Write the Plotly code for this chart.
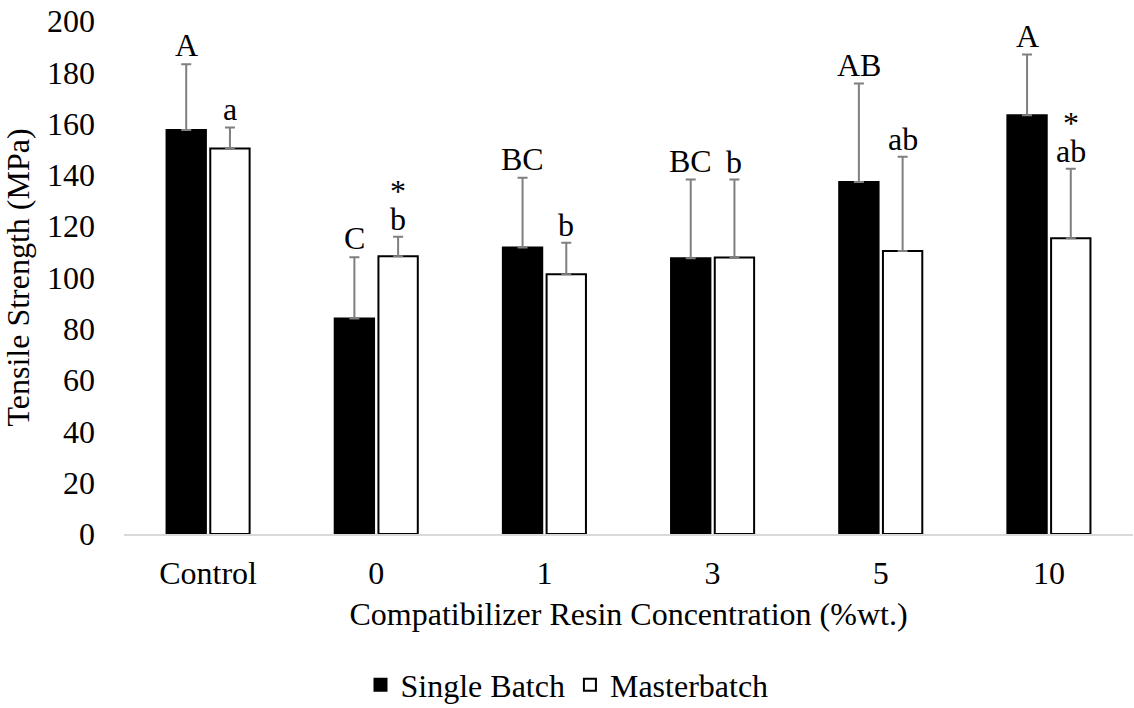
import plotly.graph_objects as go

categories = ["Control", "0", "1", "3", "5", "10"]
single_batch = [157.5, 84.0, 111.7, 107.5, 137.2, 163.3]
single_err = [25.6, 23.9, 27.2, 30.7, 38.4, 23.6]
masterbatch = [150.3, 108.3, 101.3, 107.8, 110.3, 115.3]
master_err = [8.2, 7.6, 12.2, 30.4, 36.8, 27.1]
single_letters = ["A", "C", "BC", "BC", "AB", "A"]
master_letters = ["a", "b", "b", "b", "ab", "ab"]
master_stars = ["", "*", "", "", "", "*"]

FONT = "Liberation Serif"
FS = 32
ERR_COLOR = "#7f7f7f"

fig = go.Figure()
fig.add_trace(go.Bar(
    name="Single Batch", x=categories, y=single_batch,
    marker=dict(color="black", line=dict(color="black", width=2)),
    error_y=dict(type="data", symmetric=False, array=single_err,
                 arrayminus=[0] * len(single_err), color=ERR_COLOR,
                 thickness=2, width=5),
))
fig.add_trace(go.Bar(
    name="Masterbatch", x=categories, y=masterbatch,
    marker=dict(color="white", line=dict(color="black", width=2)),
    error_y=dict(type="data", symmetric=False, array=master_err,
                 arrayminus=[0] * len(master_err), color=ERR_COLOR,
                 thickness=2, width=5),
))

offset = 0.13
for i, cat in enumerate(categories):
    fig.add_annotation(x=i - offset, y=single_batch[i] + single_err[i],
                       xref="x", yref="y", text=single_letters[i],
                       showarrow=False, yanchor="bottom", yshift=-1,
                       font=dict(family=FONT, size=FS, color="black"))
    fig.add_annotation(x=i + offset, y=masterbatch[i] + master_err[i],
                       xref="x", yref="y", text=master_letters[i],
                       showarrow=False, yanchor="bottom", yshift=-2,
                       font=dict(family=FONT, size=FS, color="black"))
    if master_stars[i]:
        fig.add_annotation(x=i + offset, y=masterbatch[i] + master_err[i],
                           xref="x", yref="y", text=master_stars[i],
                           showarrow=False, yanchor="bottom", yshift=26,
                           font=dict(family=FONT, size=FS, color="black"))

fig.update_layout(
    width=1134, height=708,
    margin=dict(l=124, r=1, t=21, b=174, autoexpand=False),
    paper_bgcolor="white", plot_bgcolor="white",
    font=dict(family=FONT, size=FS, color="black"),
    barmode="group", bargap=0.48, bargroupgap=0.1,
    showlegend=True,
    legend=dict(orientation="h", x=0.5, xanchor="center", xref="container",
                y=23 / 708, yref="container", yanchor="middle",
                font=dict(family=FONT, size=FS),
                itemwidth=30, tracegroupgap=0),
)
fig.update_xaxes(
    showline=True, linecolor="#d9d9d9", linewidth=2, showgrid=False,
    ticks="", ticklabelstandoff=10, automargin=False,
    title=dict(text="Compatibilizer Resin Concentration (%wt.)",
               font=dict(family=FONT, size=FS), standoff=12),
    tickfont=dict(family=FONT, size=FS),
)
fig.update_yaxes(
    range=[0, 200], dtick=20, showline=False, showgrid=False, zeroline=False,
    ticks="", ticklabelstandoff=28, automargin=False,
    title=dict(text="Tensile Strength (MPa)",
               font=dict(family=FONT, size=FS), standoff=10),
    tickfont=dict(family=FONT, size=FS),
)

fig.write_html("out.html")
